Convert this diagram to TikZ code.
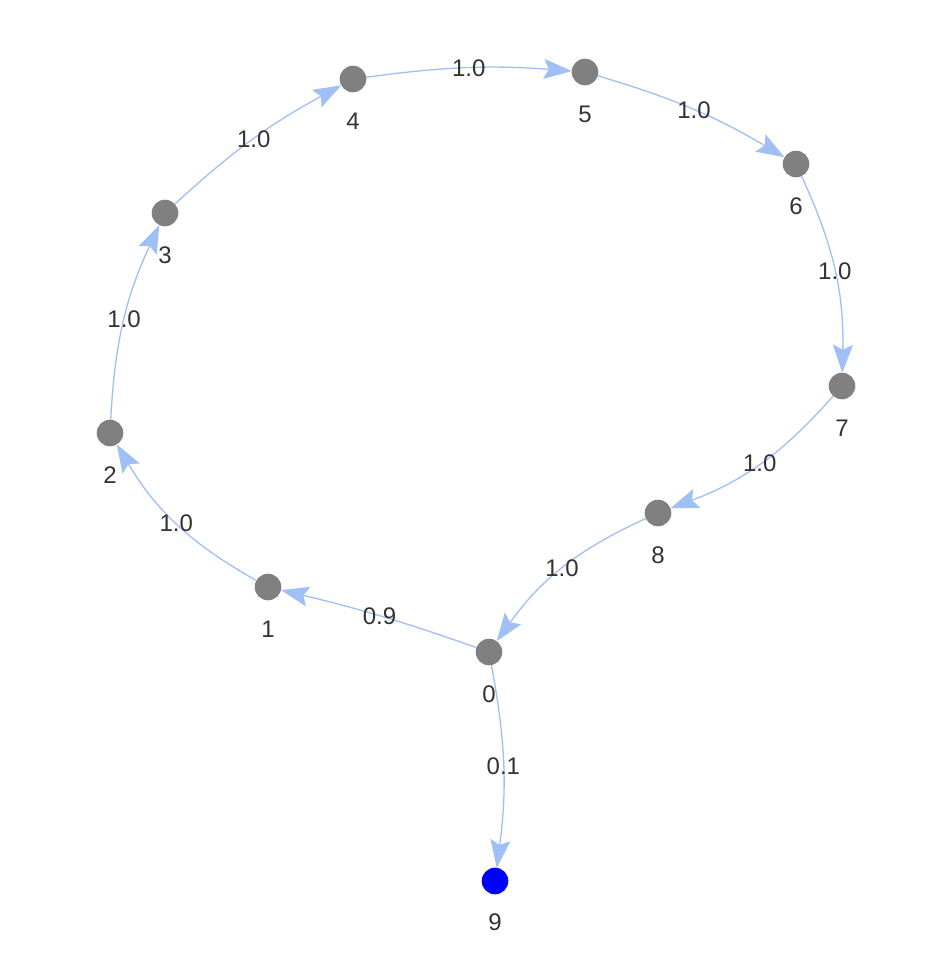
\documentclass[tikz,border=0pt]{standalone}
\usepackage{fontspec}
\setmainfont{Liberation Sans}
\usetikzlibrary{arrows.meta}
\definecolor{edgeblue}{RGB}{160,192,245}
\definecolor{vgray}{RGB}{128,128,128}
\definecolor{vblue}{RGB}{0,0,255}
\definecolor{txt}{RGB}{51,51,51}
\begin{document}
\begin{tikzpicture}[x=1pt,y=-1pt,
  vertex/.style={circle,fill=vgray,minimum size=26.6pt,inner sep=0pt,outer sep=0pt},
  vlabel/.style={text=txt,font=\fontsize{24}{28}\selectfont,inner sep=0pt},
  elabel/.style={text=txt,font=\fontsize{24}{28}\selectfont,inner sep=0pt},
  flow/.style={draw=edgeblue,line width=1.3pt,-{Stealth[length=28pt,width=20pt,inset=5pt]}}]
\fill[white] (0,0) rectangle (946,962);
\useasboundingbox (0,0) rectangle (946,962);
% vertices
\node[vertex] (n0) at (489,652) {};
\node[vertex] (n1) at (268,587) {};
\node[vertex] (n2) at (110,433) {};
\node[vertex] (n3) at (165,213) {};
\node[vertex] (n4) at (353,79) {};
\node[vertex] (n5) at (585,72) {};
\node[vertex] (n6) at (796,164) {};
\node[vertex] (n7) at (842,386) {};
\node[vertex] (n8) at (658,513) {};
\node[vertex,fill=vblue] (n9) at (495,881) {};
% vertex labels
\node[vlabel] (l0) at (489,694) {0};
\node[vlabel] (l1) at (268,629) {1};
\node[vlabel] (l2) at (110,475) {2};
\node[vlabel] (l3) at (165,255) {3};
\node[vlabel] (l4) at (353,121) {4};
\node[vlabel] (l5) at (585,114) {5};
\node[vlabel] (l6) at (796,206) {6};
\node[vlabel] (l7) at (842,428) {7};
\node[vlabel] (l8) at (658,555) {8};
\node[vlabel] (l9) at (495,922) {9};
% edges
\draw[flow] (n0) to[bend right=3] node[elabel] (e01) {0.9} (n1);
\draw[flow] (n1) to[bend left=15] node[elabel] (e12) {1.0} (n2);
\draw[flow] (n2) to[bend left=11] node[elabel] (e23) {1.0} (n3);
\draw[flow] (n3) to[bend left=7] node[elabel] (e34) {1.0} (n4);
\draw[flow] (n4) to[bend left=6] node[elabel] (e45) {1.0} (n5);
\draw[flow] (n5) to[bend left=7] node[elabel] (e56) {1.0} (n6);
\draw[flow] (n6) to[bend left=13] node[elabel] (e67) {1.0} (n7);
\draw[flow] (n7) to[bend left=14] node[elabel] (e78) {1.0} (n8);
\draw[flow] (n8) to[bend right=15] node[elabel] (e80) {1.0} (n0);
\draw[flow] (n0) to[bend left=9] node[elabel] (e09) {0.1} (n9);
\end{tikzpicture}
\end{document}
